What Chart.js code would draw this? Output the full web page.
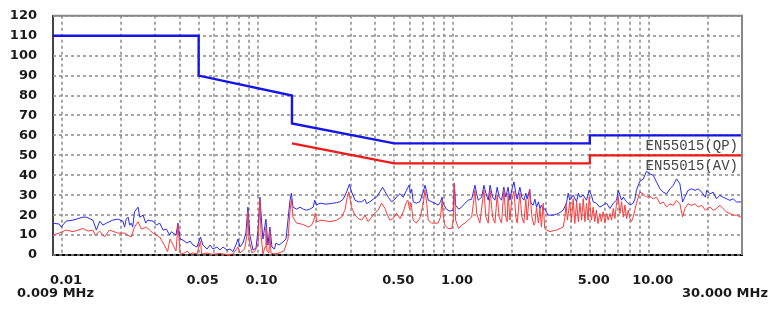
<!DOCTYPE html>
<html lang="en">
  <head>
    <meta charset="UTF-8" />
    <meta name="viewport" content="width=device-width, initial-scale=1.0" />
    <title>EN55015 conducted emission</title>
    <style>
      body {
        margin: 0;
        background: #fff;
      }
      .plot {
        position: relative;
        width: 784px;
        height: 315px;
      }
    </style>
  </head>
  <body>
    <div class="plot">
      <canvas id="emi"></canvas>
    </div>

    <script src="https://cdn.jsdelivr.net/npm/chart.js@4.4.0/dist/chart.umd.min.js"></script>
    <script>
      // 측정 주파수 범위 (MHz)
      const freqMin = 0.009;
      const freqMax = 30;

      // 한계선 EN55015 QP / AV (MHz, dBuV)
      const qpLimitFreq = [0.009, 0.05, 0.05, 0.15, 0.15, 0.5, 5, 5, 30];
      const qpLimitLevel = [110, 110, 90, 80, 66, 56, 56, 60, 60];
      const avLimitFreq = [0.15, 0.5, 5, 5, 30];
      const avLimitLevel = [56, 46, 46, 50, 50];

      // 파란 측정 곡선 (peak)
      const peakFreq = [
        0.009, 0.0097, 0.0099, 0.0105, 0.0114, 0.0128, 0.0133, 0.0144, 0.015, 0.0156,
        0.0162, 0.0169, 0.0182, 0.0193, 0.0205, 0.0209, 0.0213, 0.0218, 0.0222, 0.0226,
        0.023, 0.0235, 0.0245, 0.025, 0.026, 0.0268, 0.0275, 0.0292, 0.0304, 0.0316,
        0.0329, 0.0342, 0.0355, 0.0363, 0.037, 0.0383, 0.0392, 0.0402, 0.0416, 0.0436,
        0.0452, 0.0468, 0.049, 0.0511, 0.0526, 0.0552, 0.0572, 0.0592, 0.062, 0.0643,
        0.0666, 0.0698, 0.0723, 0.0749, 0.0775, 0.0794, 0.0813, 0.0842, 0.0872, 0.0893,
        0.0914, 0.0948, 0.0982, 0.1005, 0.1029, 0.1054, 0.1066, 0.1104, 0.113, 0.1157,
        0.1185, 0.122, 0.1243, 0.1287, 0.1349, 0.1398, 0.1431, 0.1466, 0.149, 0.1518,
        0.1585, 0.1648, 0.1713, 0.178, 0.185, 0.1927, 0.196, 0.2, 0.2088, 0.2243,
        0.2438, 0.2535, 0.2638, 0.2745, 0.2855, 0.295, 0.3025, 0.315, 0.3275, 0.341,
        0.354, 0.361, 0.3755, 0.3905, 0.406, 0.4225, 0.436, 0.449, 0.466, 0.485,
        0.504, 0.524, 0.535, 0.556, 0.578, 0.595, 0.606, 0.614, 0.625, 0.648,
        0.676, 0.704, 0.718, 0.733, 0.746, 0.776, 0.807, 0.838, 0.862, 0.878,
        0.888, 0.924, 0.963, 1.002, 1.014, 1.03, 1.066, 1.105, 1.15, 1.195,
        1.244, 1.294, 1.319, 1.344, 1.4, 1.437, 1.472, 1.513, 1.545, 1.593,
        1.636, 1.68, 1.72, 1.769, 1.817, 1.86, 1.91, 1.953, 1.993, 2.047,
        2.095, 2.127, 2.195, 2.247, 2.3, 2.355, 2.39, 2.465, 2.5, 2.567,
        2.62, 2.67, 2.73, 2.78, 2.83, 2.89, 2.94, 3.06, 3.25, 3.45,
        3.655, 3.8, 3.875, 3.95, 4.11, 4.28, 4.37, 4.45, 4.63, 4.81,
        4.96, 5.1, 5.2, 5.4, 5.62, 5.85, 6.09, 6.34, 6.59, 6.85,
        6.99, 7.13, 7.27, 7.41, 7.71, 8.02, 8.33, 8.5, 8.66, 9.01,
        9.37, 9.75, 10.14, 10.55, 10.98, 11.42, 11.87, 12.35, 12.85, 13.35,
        13.88, 14.44, 14.9, 15.3, 15.9, 16.6, 17.25, 17.9, 18.7, 19.5,
        19.8, 20.6, 21.4, 22.2, 23.1, 24.05, 25.0, 26.0, 27.05, 28.1,
        29.3, 30.0,
      ];
      const peakLevel = [
        16, 15.5, 14, 17, 17.5, 19, 19, 17.5, 12.5, 17,
        15, 16, 17.5, 18, 17, 14, 18, 19, 15, 16,
        14, 21.7, 24, 19, 20, 16, 17.5, 17, 15, 16,
        12.5, 13, 10, 11.7, 11, 10, 16, 8, 7.5, 6,
        7, 5, 4, 9, 5, 3, 5, 3, 4, 2.5,
        4, 2.5, 3, 1.7, 5, 8, 4, 6, 11, 24,
        10, 2.5, 3.5, 12, 29, 14, 8, 18, 5, 14,
        4, 3, 6, 5, 6.5, 8, 17.5, 27.5, 31, 24,
        23, 24, 23, 22.5, 23, 24, 27.5, 25, 26, 25.5,
        26, 26.3, 26.7, 28, 31.7, 35.5, 31.7, 27.5, 26.7, 26.7,
        28, 25.8, 26.7, 28, 29, 31.7, 34, 31.7, 29, 26.7,
        28, 30, 30.8, 29, 32.5, 35, 31, 33, 26.7, 26,
        26.7, 31.7, 35, 31.7, 27.5, 26.7, 26, 25, 26.7, 29,
        26, 23, 22, 22.5, 36, 25, 23, 24, 26, 27.5,
        28, 35, 30.8, 27.5, 29, 35, 30.8, 27.5, 35, 29,
        27.5, 34, 29, 27.5, 34, 29, 34, 27.5, 32.5, 36.7,
        30.8, 28, 34, 29, 27.5, 31, 28, 33, 26, 25,
        28, 24, 26.7, 23.3, 25, 22.5, 23.3, 20, 20, 20.8,
        22.5, 26, 31, 27.5, 30, 26.7, 31, 29, 30, 27.5,
        32.5, 30, 26.7, 26, 24, 25, 26, 23.3, 26, 27.5,
        32.5, 30, 27.5, 29, 26.7, 25, 26, 28, 32.5, 37,
        38, 42, 40.7, 40, 36.5, 33.2, 31.5, 30.7, 33.2, 34.9,
        38.2, 35.7, 26.6, 29, 32.4, 33.2, 32.4, 33.2, 31.5, 29,
        32.4, 30.7, 31.5, 28.2, 29.9, 29, 28.2, 27.4, 28.2, 26.6,
        26.6, 26.8,
      ];

      // 빨간 측정 곡선 (average)
      const avgFreq = [
        0.009, 0.0097, 0.0105, 0.0114, 0.0128, 0.0136, 0.0144, 0.0148, 0.0156, 0.0165,
        0.0175, 0.0193, 0.0209, 0.0226, 0.0235, 0.0245, 0.0255, 0.027, 0.0292, 0.0316,
        0.0334, 0.0347, 0.0357, 0.037, 0.0383, 0.0392, 0.0402, 0.0416, 0.0436, 0.0452,
        0.0468, 0.049, 0.0511, 0.0518, 0.0552, 0.0585, 0.0643, 0.0698, 0.0749, 0.0794,
        0.0813, 0.086, 0.0882, 0.0893, 0.0903, 0.0937, 0.097, 0.1005, 0.1029, 0.1042,
        0.1066, 0.1092, 0.1104, 0.1117, 0.1144, 0.1157, 0.1171, 0.1213, 0.1287, 0.1365,
        0.1431, 0.1466, 0.149, 0.1518, 0.155, 0.1585, 0.1713, 0.1818, 0.189, 0.194,
        0.1975, 0.201, 0.213, 0.2345, 0.2535, 0.269, 0.28, 0.2875, 0.293, 0.3025,
        0.315, 0.3275, 0.341, 0.354, 0.368, 0.383, 0.398, 0.414, 0.431, 0.449,
        0.457, 0.475, 0.494, 0.514, 0.535, 0.556, 0.578, 0.587, 0.598, 0.61,
        0.625, 0.648, 0.676, 0.704, 0.718, 0.733, 0.746, 0.776, 0.838, 0.862,
        0.878, 0.888, 0.905, 0.944, 0.984, 1.002, 1.014, 1.03, 1.066, 1.105,
        1.15, 1.195, 1.244, 1.294, 1.319, 1.37, 1.437, 1.472, 1.513, 1.545,
        1.593, 1.636, 1.68, 1.72, 1.769, 1.817, 1.86, 1.89, 1.91, 1.953,
        1.993, 2.047, 2.095, 2.127, 2.195, 2.247, 2.3, 2.355, 2.39, 2.465,
        2.53, 2.588, 2.62, 2.67, 2.73, 2.78, 2.83, 2.89, 2.94, 3.0,
        3.13, 3.25, 3.38, 3.52, 3.655, 3.73, 3.78, 3.84, 3.95, 4.03,
        4.11, 4.19, 4.28, 4.37, 4.45, 4.54, 4.63, 4.72, 4.81, 4.9,
        4.96, 5.1, 5.2, 5.3, 5.4, 5.51, 5.62, 5.73, 5.85, 5.97,
        6.09, 6.21, 6.34, 6.46, 6.59, 6.72, 6.85, 6.99, 7.13, 7.27,
        7.41, 7.56, 7.71, 7.86, 8.02, 8.17, 8.33, 8.5, 8.66, 9.01,
        9.37, 9.75, 10.14, 10.55, 10.98, 11.42, 11.87, 12.35, 12.85, 13.35,
        13.88, 14.44, 14.9, 15.3, 15.9, 16.6, 17.25, 17.9, 18.7, 19.5,
        19.8, 20.6, 21.4, 22.2, 23.1, 24.05, 25.0, 26.0, 27.05, 28.1,
        29.3, 30.0,
      ];
      const avgLevel = [
        10, 11, 12.5, 11.7, 13.3, 12, 12.5, 10, 12, 9,
        12.5, 11, 11, 9, 14, 16.7, 13, 14, 11, 9,
        5, 1.7, 8, 5, 2, 15, 1, 0.5, 2, 0.5,
        1, 0.5, 7, 0.5, 1, 0.3, 0.8, 0.2, 0.5, 4,
        1, 3, 10, 22, 8, 1, 2, 5, 28, 10,
        0.5, 4, 14, 2, 1, 12, 1, 0.5, 1, 2,
        8, 22, 28, 19, 17.5, 16, 15.3, 14, 15, 17.5,
        21, 16.7, 17.5, 16.7, 17.5, 19, 22.5, 29, 31.7, 24,
        20, 18.3, 17.5, 20, 16.7, 19, 21, 22.5, 26, 23.3,
        21, 17.5, 18.3, 21, 18.3, 21.7, 26.7, 27.5, 23.3, 26,
        17.5, 16, 18.3, 26, 32.5, 26, 17.5, 16, 16, 19,
        27.5, 21, 15, 13.3, 13.3, 17.5, 36, 17.5, 13.3, 15,
        16, 17.5, 19, 32.5, 21, 16, 32.5, 19, 16, 32.5,
        19, 16, 30, 19, 16, 32.5, 19, 16.7, 31, 17.5,
        27.5, 32, 19, 16, 31, 19, 16, 28, 17.5, 32.5,
        19, 15, 15.8, 24, 16, 23.3, 14, 26, 13.3, 12.5,
        11.7, 12.2, 12.5, 13.3, 14, 19, 26, 17.5, 26.7, 16.7,
        28.3, 15.8, 26.7, 16.7, 26, 17.5, 28.3, 16.7, 26, 17.5,
        29, 17.5, 24, 16.7, 22.5, 15.8, 20.8, 16.7, 21.7, 16.2,
        20.8, 17.5, 20.8, 17.5, 23.3, 18.3, 26, 29, 20.8, 26.7,
        19, 25, 18.3, 22.5, 18.3, 16.7, 19, 22.5, 26, 31.5,
        30.7, 29, 29.5, 28.2, 29, 25.7, 26.6, 24.1, 25.7, 24.9,
        27.4, 25.7, 19.1, 23.2, 25.7, 24.9, 25.7, 24.1, 24.9, 22.4,
        23.2, 24.1, 22.4, 23.2, 25, 23.2, 21.6, 20.8, 20, 20,
        19.1, 19,
      ];

      // x축 눈금 (격자) 및 표시할 라벨
      const xGridValues = [
        0.01, 0.02, 0.03, 0.04, 0.05, 0.06, 0.07, 0.08, 0.09,
        0.1, 0.2, 0.3, 0.4, 0.5, 0.6, 0.7, 0.8, 0.9,
        1, 2, 3, 4, 5, 6, 7, 8, 9,
        10, 20, 30,
      ];
      const xLabelValues = [0.01, 0.05, 0.1, 0.5, 1, 5, 10];
      const xLabelTexts = ["0.01", "0.05", "0.10", "0.50", "1.00", "5.00", "10.00"];

      const toPoints = (fs, vs) => fs.map((f, i) => ({ x: f, y: vs[i] }));

      const tickFont = { family: "'DejaVu Sans', sans-serif", weight: "bold", size: 13 };
      const gridColor = "#8a8a8a";

      new Chart(document.getElementById("emi"), {
        type: "line",
        data: {
          datasets: [
            {
              label: "EN55015(QP)",
              data: toPoints(qpLimitFreq, qpLimitLevel),
              borderColor: "#1515e8",
              borderWidth: 2.4,
            },
            {
              label: "EN55015(AV)",
              data: toPoints(avLimitFreq, avLimitLevel),
              borderColor: "#f01818",
              borderWidth: 2.2,
            },
            {
              label: "AV",
              data: toPoints(avgFreq, avgLevel),
              borderColor: "#ff3a3a",
              borderWidth: 1,
            },
            {
              label: "PK",
              data: toPoints(peakFreq, peakLevel),
              borderColor: "#2a2af5",
              borderWidth: 1,
            },
          ],
        },
        options: {
          responsive: true,
          maintainAspectRatio: false,
          animation: false,
          events: [],
          elements: {
            point: { radius: 0 },
            line: { tension: 0 },
          },
          layout: {
            padding: { top: 14, right: 42, left: 0, bottom: 0 },
          },
          plugins: {
            legend: { display: false },
            tooltip: { enabled: false },
          },
          scales: {
            x: {
              type: "logarithmic",
              min: freqMin,
              max: freqMax,
              afterBuildTicks: (scale) => {
                scale.ticks = xGridValues.map((v) => ({ value: v }));
              },
              afterFit: (scale) => {
                scale.height = 60;
              },
              ticks: {
                autoSkip: false,
                maxRotation: 0,
                padding: 10,
                labelOffset: 4,
                font: tickFont,
                color: "#1a1a1a",
                callback: (value) => {
                  const k = xLabelValues.findIndex((v) => Math.abs(v - value) < v * 1e-6);
                  return k === -1 ? "" : xLabelTexts[k];
                },
              },
              grid: { display: false },
              border: { color: "#000", width: 2 },
            },
            y: {
              min: 0,
              max: 120,
              afterFit: (scale) => {
                scale.width = 53;
              },
              ticks: {
                stepSize: 10,
                padding: 8,
                font: tickFont,
                color: "#1a1a1a",
              },
              grid: { display: false },
              border: { color: "#444", width: 2 },
            },
          },
        },
        plugins: [
          {
            //점선 격자 (데이터 아래)
            id: "dashGrid",
            beforeDatasetsDraw(chart) {
              const { ctx, chartArea: a, scales } = chart;
              ctx.save();
              ctx.strokeStyle = gridColor;
              ctx.lineWidth = 1.5;
              ctx.setLineDash([3, 3]);
              ctx.beginPath();
              for (const t of scales.x.ticks) {
                const px = Math.round(scales.x.getPixelForValue(t.value));
                ctx.moveTo(px, a.top);
                ctx.lineTo(px, a.bottom);
              }
              for (const t of scales.y.ticks) {
                const py = Math.round(scales.y.getPixelForValue(t.value));
                ctx.moveTo(a.left, py);
                ctx.lineTo(a.right, py);
              }
              ctx.stroke();
              ctx.restore();
            },
          },
          {
            //틀, 한계선 이름, 주파수 범위 문구
            id: "frame",
            afterDraw(chart) {
              const { ctx, chartArea: a, scales } = chart;
              ctx.save();
              ctx.strokeStyle = "#888";
              ctx.lineWidth = 2;
              ctx.beginPath();
              ctx.moveTo(a.left, a.top);
              ctx.lineTo(a.right, a.top);
              ctx.lineTo(a.right, a.bottom);
              ctx.stroke();

              ctx.font = "14px 'Liberation Mono', monospace";
              ctx.fillStyle = "#444";
              ctx.textAlign = "right";
              ctx.textBaseline = "middle";
              ctx.fillText("EN55015(QP)", a.right - 4, scales.y.getPixelForValue(60) + 11);
              ctx.fillText("EN55015(AV)", a.right - 4, scales.y.getPixelForValue(50) + 11);

              ctx.font = "bold 13px 'DejaVu Sans', sans-serif";
              ctx.fillStyle = "#1a1a1a";
              ctx.textAlign = "left";
              ctx.fillText(freqMin.toFixed(3) + " MHz", 17, 294);
              ctx.textAlign = "right";
              ctx.fillText(freqMax.toFixed(3) + " MHz", 768, 294);
              ctx.restore();
            },
          },
        ],
      });
    </script>
  </body>
</html>
